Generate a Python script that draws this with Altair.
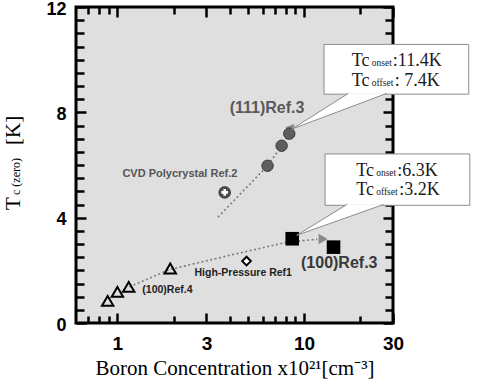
import altair as alt
import pandas as pd

# ---------------- axes ----------------
X_DOMAIN = [0.6, 30]
Y_DOMAIN = [0, 12]
X_MAJOR = [1, 3, 10, 30]
X_MINOR = [0.7, 0.8, 0.9, 2, 4, 5, 6, 7, 8, 9, 20]
Y_MAJOR = [0, 4, 8, 12]
Y_MINOR = [0.5, 1, 1.5, 2, 2.5, 3, 3.5, 4.5, 5, 5.5, 6, 6.5, 7, 7.5,
           8.5, 9, 9.5, 10, 10.5, 11, 11.5]
X_TITLE = "Boron Concentration x10\u00b2\u00b9[cm\u207b\u00b3]"

# ---------------- data ----------------
ref4_x = [0.887, 1.0, 1.15, 1.92]
ref4_y = [0.84, 1.18, 1.37, 2.07]
hp_x = [4.92]
hp_y = [2.35]
r100_x = [8.65, 14.4]
r100_y = [3.2, 2.88]
r111_x = [6.38, 7.59, 8.34]
r111_y = [5.97, 6.73, 7.19]
cvd_x = [3.76]
cvd_y = [4.96]
trend100_x = [1.16, 1.9, 4.53, 8.1, 11.75]
trend100_y = [1.37, 2.03, 2.66, 3.07, 3.18]
trend111_x = [3.46, 6.38, 7.59, 8.34]
trend111_y = [4.02, 5.97, 6.73, 7.19]
arrow100_x = [12.65]
arrow100_y = [3.19]
arrow111_x = [8.6]
arrow111_y = [7.44]

# callouts (data coordinates)
box_x = [12.81, 12.97]
box_x2 = [76.4, 77.4]
box_y = [8.69, 4.47]
box_y2 = [10.58, 6.42]
wedge_x = [17.3, 8.59, 27.8, 16.97, 9.14, 26.7]
wedge_y = [8.72, 7.36, 8.72, 4.50, 3.33, 4.50]
wedge_id = ["a", "a", "a", "b", "b", "b"]
wedge_ord = [0, 1, 2, 0, 1, 2]
tc_x = [18.05, 18.05, 19.04, 19.04]
tc_y = [9.76, 9.006, 5.60, 4.85]
tc_sub = ["onset", "offset", "onset", "offset"]
tc_val = [":11.4K", ": 7.4K", ":6.3K", ":3.2K"]

SERIF = "Liberation Serif"
SANS = "Liberation Sans"

XS = alt.Scale(type="log", domain=X_DOMAIN, nice=False)
YS = alt.Scale(domain=Y_DOMAIN, nice=False, zero=False)


def df(xs, ys, **extra):
    d = {"x": xs, "y": ys}
    d.update(extra)
    return pd.DataFrame(d)


def axis(**kw):
    base = dict(domain=False, grid=False, tickColor="black", tickWidth=2.5,
                title=None, labels=False)
    base.update(kw)
    return alt.Axis(**base)


def xy(chart, xaxis=None, yaxis=None, **enc):
    return chart.encode(x=alt.X("x:Q", scale=XS, axis=xaxis),
                        y=alt.Y("y:Q", scale=YS, axis=yaxis), **enc)


label_style = dict(labels=True, format="d", labelFont=SANS, labelFontWeight="bold",
                   labelColor="black", labelFlush=False, labelOverlap=False)

carrier = df([1], [1])
layers = []
# axis carriers
layers.append(xy(alt.Chart(carrier).mark_point(opacity=0),
                 axis(orient="bottom", values=X_MAJOR, tickSize=10, offset=-10,
                      labelPadding=11, labelFontSize=19, title=X_TITLE, titleFont=SERIF,
                      titleFontSize=21, titleFontWeight="normal", titleColor="black",
                      titlePadding=4, **label_style),
                 axis(orient="left", values=Y_MAJOR, tickSize=10, offset=-10,
                      labelPadding=10, labelOffset=2, labelFontSize=18, **label_style)))
layers.append(xy(alt.Chart(carrier).mark_point(opacity=0),
                 axis(orient="bottom", values=X_MINOR, tickSize=7, offset=-7),
                 axis(orient="left", values=Y_MINOR, tickSize=8, offset=-8)))
layers.append(xy(alt.Chart(carrier).mark_point(opacity=0),
                 axis(orient="top", values=X_MAJOR, tickSize=10, offset=-10),
                 axis(orient="right", values=Y_MAJOR, tickSize=10, offset=-10)))
layers.append(xy(alt.Chart(carrier).mark_point(opacity=0),
                 axis(orient="top", values=X_MINOR, tickSize=7, offset=-7),
                 axis(orient="right", values=Y_MINOR, tickSize=8, offset=-8)))

# trend lines
t100 = df(trend100_x, trend100_y, o=list(range(len(trend100_x))))
t111 = df(trend111_x, trend111_y, o=list(range(len(trend111_x))))
for t in (t100, t111):
    layers.append(xy(alt.Chart(t).mark_line(color="#7a7a7a", strokeWidth=1.6,
                                            strokeDash=[2, 2.5]),
                     order="o:Q"))
# arrow heads
layers.append(xy(alt.Chart(df(arrow100_x, arrow100_y)).mark_point(
    shape="triangle-right", filled=True, color="#8a8a8a", size=110, opacity=1)))
layers.append(xy(alt.Chart(df(arrow111_x, arrow111_y)).mark_point(
    shape="triangle-up", angle=40, filled=True, color="#8a8a8a", size=90, opacity=1)))

# data points
layers.append(xy(alt.Chart(df(ref4_x, ref4_y)).mark_point(
    shape="triangle-up", filled=False, stroke="black", strokeWidth=2, size=130, opacity=1)))
layers.append(xy(alt.Chart(df(hp_x, hp_y)).mark_point(
    shape="diamond", filled=True, fill="white", stroke="black", strokeWidth=2,
    size=75, opacity=1)))
layers.append(xy(alt.Chart(df(r100_x, r100_y)).mark_point(
    shape="square", filled=True, color="black", size=185, opacity=1)))
layers.append(xy(alt.Chart(df(r111_x, r111_y)).mark_point(
    shape="circle", filled=True, fill="#5e5e5e", stroke="#3a3a3a", strokeWidth=1,
    size=130, opacity=1)))
layers.append(xy(alt.Chart(df(cvd_x, cvd_y)).mark_point(
    shape="circle", filled=True, fill="#4a4a4a", size=160, opacity=1)))
layers.append(xy(alt.Chart(df(cvd_x, cvd_y)).mark_point(
    shape="cross", filled=True, fill="white", size=45, opacity=1)))

# series labels
def label(text, x, y, size, color):
    return xy(alt.Chart(df([x], [y])).mark_text(
        text=text, align="left", baseline="middle", font=SANS, fontWeight="bold",
        fontSize=size, color=color))

layers.append(label("CVD Polycrystal Ref.2", 1.064, 5.67, 11, "#555555"))
layers.append(label("(111)Ref.3", 4.0, 8.16, 16, "#595959"))
layers.append(label("(100)Ref.3", 9.64, 2.27, 16, "#383838"))
layers.append(label("High-Pressure Ref1", 2.59, 1.89, 10.5, "#222222"))
layers.append(label("(100)Ref.4", 1.36, 1.25, 10.5, "#222222"))

# callouts
boxes = pd.DataFrame({"x": box_x, "x2": box_x2, "y": box_y, "y2": box_y2})
layers.append(alt.Chart(boxes).mark_rect(fill="white", stroke="#8c8c8c", strokeWidth=1).encode(
    x=alt.X("x:Q", scale=XS, axis=None), x2="x2:Q",
    y=alt.Y("y:Q", scale=YS, axis=None), y2="y2:Q"))
wedges = df(wedge_x, wedge_y, w=wedge_id, o=wedge_ord)
layers.append(xy(alt.Chart(wedges).mark_line(fill="white", stroke="#8c8c8c", strokeWidth=1),
                 detail="w:N", order="o:Q"))
tc = df(tc_x, tc_y, sub=tc_sub, val=tc_val)
layers.append(xy(alt.Chart(tc).mark_text(text="Tc", align="left", baseline="alphabetic",
                                         font=SERIF, fontSize=18, color="#1a1a1a")))
layers.append(xy(alt.Chart(tc).mark_text(align="left", baseline="alphabetic", dx=20,
                                         font=SERIF, fontSize=9.5, color="#1a1a1a"),
                 text="sub:N"))
layers.append(xy(alt.Chart(tc).transform_filter("datum.sub == 'onset'").mark_text(
    align="left", baseline="alphabetic", dx=41, font=SERIF, fontSize=18, color="#1a1a1a"),
    text="val:N"))
layers.append(xy(alt.Chart(tc).transform_filter("datum.sub == 'offset'").mark_text(
    align="left", baseline="alphabetic", dx=43, font=SERIF, fontSize=18, color="#1a1a1a"),
    text="val:N"))

# y-axis title pieces (rotated)
layers.append(alt.Chart(carrier).mark_text(text="T", angle=270, align="left",
                                           baseline="alphabetic", font=SERIF, fontSize=21,
                                           color="black").encode(
    x=alt.value(-56), y=alt.value(203)))
layers.append(alt.Chart(carrier).mark_text(text="c (zero)", angle=270, align="left",
                                           baseline="alphabetic", font=SERIF, fontSize=12,
                                           color="black").encode(
    x=alt.value(-56), y=alt.value(188)))
layers.append(alt.Chart(carrier).mark_text(text="[K]", angle=270, align="left",
                                           baseline="alphabetic", font=SERIF, fontSize=21,
                                           color="black").encode(
    x=alt.value(-56), y=alt.value(138)))

chart = alt.layer(*layers).resolve_axis(x="independent", y="independent").properties(
    width=317, height=316,
    autosize=alt.AutoSizeParams(type="none"),
    padding={"left": 76, "top": 7, "right": 84, "bottom": 60},
    background="white",
).configure_view(fill="#dfdfdf", stroke="black", strokeWidth=3)

chart.save("out.html", embed_options={"renderer": "svg", "actions": False})
